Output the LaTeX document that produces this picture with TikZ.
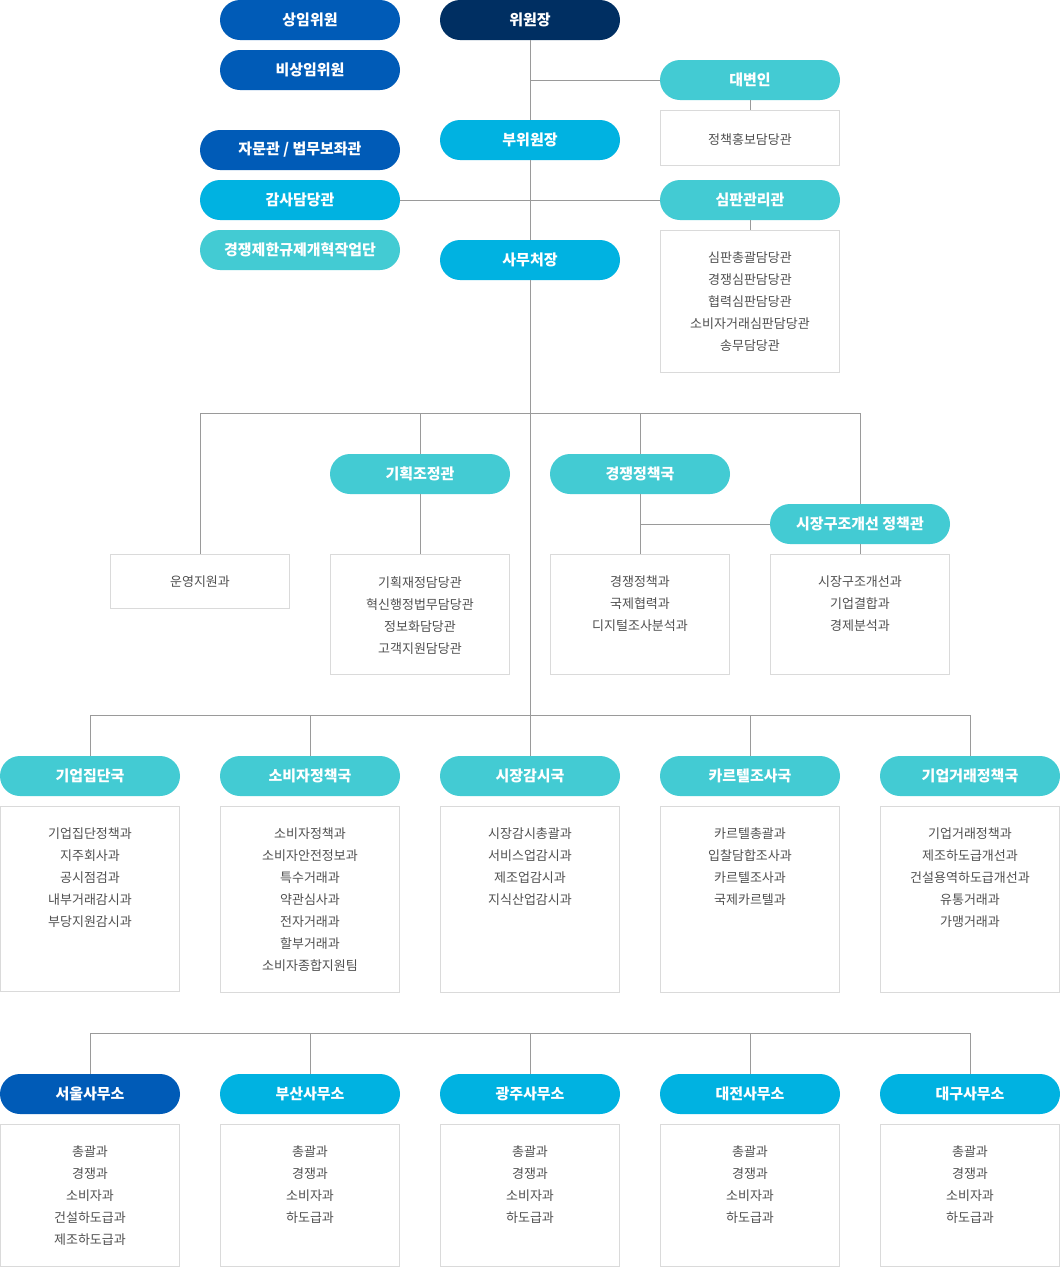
\documentclass[tikz,border=0pt]{standalone}
\usepackage{fontspec}
\setmainfont{Noto Sans CJK KR}
\definecolor{navy}{HTML}{002F62}
\definecolor{royal}{HTML}{005BB7}
\definecolor{sky}{HTML}{00B2E1}
\definecolor{teal}{HTML}{43CBD3}
\definecolor{wire}{HTML}{9A9A9A}
\definecolor{frame}{HTML}{DADADA}
\definecolor{ink}{HTML}{505050}
\begin{document}
\begin{tikzpicture}[x=1pt,y=-1pt,
  pill/.style={rectangle, rounded corners=20pt, minimum width=180pt, minimum height=40pt,
    inner sep=0pt, text=white, font=\fontsize{15}{18}\selectfont\bfseries},
  wide/.style={minimum width=200pt},
  panel/.style={rectangle, draw=frame, line width=1pt, fill=white, minimum width=179pt, inner sep=0pt},
  items/.style={align=center, anchor=north, inner sep=0pt, text=ink,
    font=\fontsize{13}{22}\selectfont, yshift=-2pt},
  link/.style={draw=wire, line width=1pt}]
\useasboundingbox (0,0) rectangle (1060,1267);

% junction points on the connector buses
\coordinate (j80) at (530,80);
\coordinate (bus2) at (530,715);
\coordinate (b1l) at (200,413);
\coordinate (b1a) at (420,413);
\coordinate (b1b) at (640,413);
\coordinate (b1r) at (860,413);
\coordinate (jm) at (640,524);
\coordinate (b2l) at (90,715);
\coordinate (b2a) at (310,715);
\coordinate (b2b) at (750,715);
\coordinate (b2r) at (970,715);
\coordinate (b3l) at (90,1033);
\coordinate (b3a) at (310,1033);
\coordinate (b3c) at (530,1033);
\coordinate (b3b) at (750,1033);
\coordinate (b3r) at (970,1033);

% ---- top management ----
\node[pill, fill=royal] (standing) at (310,20) {상임위원};
\node[pill, fill=royal] (nonstanding) at (310,70) {비상임위원};
\node[pill, fill=navy] (chair) at (530,20) {위원장};
\node[pill, fill=sky] (vice) at (530,140) {부위원장};
\node[pill, fill=sky] (secgen) at (530,260) {사무처장};
\node[pill, wide, fill=royal] (advisor) at (300,150) {자문관 / 법무보좌관};
\node[pill, wide, fill=sky] (audit) at (300,200) {감사담당관};
\node[pill, wide, fill=teal] (reform) at (300,250) {경쟁제한규제개혁작업단};
\node[pill, fill=teal] (spokes) at (750,80) {대변인};
\node[panel, minimum height=55pt] (spokesbox) at (750,137.5) {};
\node[items] (spokestxt) at (750,131) {정책홍보담당관};
\node[pill, fill=teal] (trial) at (750,200) {심판관리관};
\node[panel, minimum height=142pt] (trialbox) at (750,301) {};
\node[items] (trialtxt) at (750,250) {심판총괄담당관\\경쟁심판담당관\\협력심판담당관\\소비자거래심판담당관\\송무담당관};

% ---- secretariat level ----
\node[panel, minimum height=54pt] (opsbox) at (200,581) {};
\node[items] (opstxt) at (200,574) {운영지원과};
\node[pill, fill=teal] (plan) at (420,474) {기획조정관};
\node[panel, minimum height=120pt] (planbox) at (420,614) {};
\node[items] (plantxt) at (420,574) {기획재정담당관\\혁신행정법무담당관\\정보화담당관\\고객지원담당관};
\node[pill, fill=teal] (comp) at (640,474) {경쟁정책국};
\node[panel, minimum height=120pt] (compbox) at (640,614) {};
\node[items] (comptxt) at (640,574) {경쟁정책과\\국제협력과\\디지털조사분석과};
\node[pill, fill=teal] (market) at (860,524) {시장구조개선 정책관};
\node[panel, minimum height=120pt] (marketbox) at (860,614) {};
\node[items] (markettxt) at (860,574) {시장구조개선과\\기업결합과\\경제분석과};

% ---- bureaus ----
\node[pill, fill=teal] (group) at (90,776) {기업집단국};
\node[panel, minimum height=185pt] (groupbox) at (90,898.5) {};
\node[items] (grouptxt) at (90,826) {기업집단정책과\\지주회사과\\공시점검과\\내부거래감시과\\부당지원감시과};
\node[pill, fill=teal] (consumer) at (310,776) {소비자정책국};
\node[panel, minimum height=186pt] (consumerbox) at (310,899) {};
\node[items] (consumertxt) at (310,826) {소비자정책과\\소비자안전정보과\\특수거래과\\약관심사과\\전자거래과\\할부거래과\\소비자종합지원팀};
\node[pill, fill=teal] (watch) at (530,776) {시장감시국};
\node[panel, minimum height=186pt] (watchbox) at (530,899) {};
\node[items] (watchtxt) at (530,826) {시장감시총괄과\\서비스업감시과\\제조업감시과\\지식산업감시과};
\node[pill, fill=teal] (cartel) at (750,776) {카르텔조사국};
\node[panel, minimum height=186pt] (cartelbox) at (750,899) {};
\node[items] (carteltxt) at (750,826) {카르텔총괄과\\입찰담합조사과\\카르텔조사과\\국제카르텔과};
\node[pill, fill=teal] (trade) at (970,776) {기업거래정책국};
\node[panel, minimum height=186pt] (tradebox) at (970,899) {};
\node[items] (tradetxt) at (970,826) {기업거래정책과\\제조하도급개선과\\건설용역하도급개선과\\유통거래과\\가맹거래과};

% ---- regional offices ----
\node[pill, fill=royal] (seoul) at (90,1094) {서울사무소};
\node[panel, minimum height=142pt] (seoulbox) at (90,1195) {};
\node[items] (seoultxt) at (90,1144) {총괄과\\경쟁과\\소비자과\\건설하도급과\\제조하도급과};
\node[pill, fill=sky] (busan) at (310,1094) {부산사무소};
\node[panel, minimum height=142pt] (busanbox) at (310,1195) {};
\node[items] (busantxt) at (310,1144) {총괄과\\경쟁과\\소비자과\\하도급과};
\node[pill, fill=sky] (gwangju) at (530,1094) {광주사무소};
\node[panel, minimum height=142pt] (gwangjubox) at (530,1195) {};
\node[items] (gwangjutxt) at (530,1144) {총괄과\\경쟁과\\소비자과\\하도급과};
\node[pill, fill=sky] (daejeon) at (750,1094) {대전사무소};
\node[panel, minimum height=142pt] (daejeonbox) at (750,1195) {};
\node[items] (daejeontxt) at (750,1144) {총괄과\\경쟁과\\소비자과\\하도급과};
\node[pill, fill=sky] (daegu) at (970,1094) {대구사무소};
\node[panel, minimum height=142pt] (daegubox) at (970,1195) {};
\node[items] (daegutxt) at (970,1144) {총괄과\\경쟁과\\소비자과\\하도급과};

% ---- connectors ----
\path[link] (chair.south) -- (vice.north);
\path[link] (j80) -- (spokes.west);
\path[link] (spokes.south) -- (spokesbox.north);
\path[link] (vice.south) -- (secgen.north);
\path[link] (audit.east) -- (trial.west);
\path[link] (trial.south) -- (trialbox.north);
\path[link] (secgen.south) -- (bus2);
\path[link] (b1l) -- (b1r);
\path[link] (b1l) -- (opsbox.north);
\path[link] (b1a) -- (plan.north);
\path[link] (plan.south) -- (planbox.north);
\path[link] (b1b) -- (comp.north);
\path[link] (comp.south) -- (compbox.north);
\path[link] (jm) -- (market.west);
\path[link] (b1r) -- (market.north);
\path[link] (market.south) -- (marketbox.north);
\path[link] (b2l) -- (b2r);
\path[link] (b2l) -- (group.north);
\path[link] (b2a) -- (consumer.north);
\path[link] (bus2) -- (watch.north);
\path[link] (b2b) -- (cartel.north);
\path[link] (b2r) -- (trade.north);
\path[link] (b3l) -- (b3r);
\path[link] (b3l) -- (seoul.north);
\path[link] (b3a) -- (busan.north);
\path[link] (b3c) -- (gwangju.north);
\path[link] (b3b) -- (daejeon.north);
\path[link] (b3r) -- (daegu.north);
\end{tikzpicture}
\end{document}
